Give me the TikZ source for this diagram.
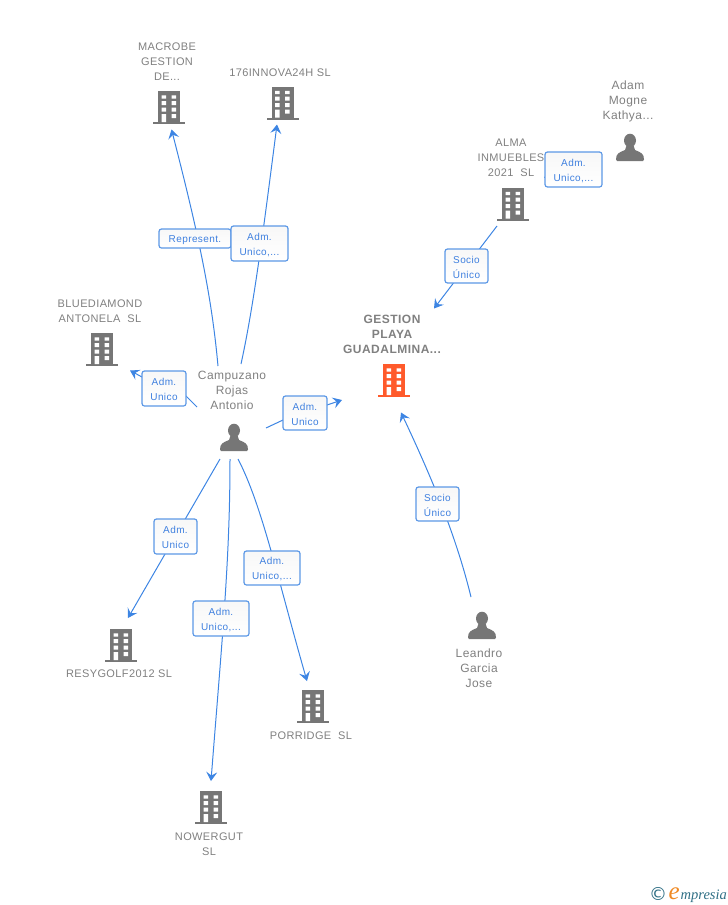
\documentclass[tikz,border=0pt]{standalone}
\usepackage{fontspec}
\setmainfont[LetterSpace=3.5]{Liberation Sans}
\newfontfamily\boldlabel[LetterSpace=4]{Liberation Sans}
\newfontfamily\boxlabel[LetterSpace=4]{Liberation Sans}
\newfontfamily\logofont{Liberation Serif}
\newfontfamily\symfont{DejaVu Sans}
\usetikzlibrary{arrows.meta}
\newcommand{\tagpad}{\rule{0pt}{9.4pt}}
\definecolor{txtgray}{HTML}{808080}
\definecolor{icongray}{HTML}{767676}
\definecolor{iconorange}{HTML}{FF5A2B}
\definecolor{linkblue}{HTML}{3D85E3}
\definecolor{boxblue}{HTML}{5C98E6}
\definecolor{boxtext}{HTML}{3F80DF}
\definecolor{logoteal}{HTML}{2F6F85}
\definecolor{logoorange}{HTML}{F08A24}
\tikzset{
  x=1pt,y=-1pt,
  entity/.style={text=txtgray,align=center,inner sep=0pt,font=\fontsize{11}{15}\selectfont},
  personname/.style={text=txtgray,align=center,inner sep=0pt,font=\fontsize{12}{15}\selectfont},
  mainentity/.style={text=txtgray,align=center,inner sep=0pt,font=\boldlabel\bfseries\fontsize{12}{15}\selectfont},
  iconspot/.style={inner sep=0pt,minimum width=32pt,minimum height=34pt},
  link/.style={draw=linkblue,line width=1pt,-{Stealth[length=9pt,width=11pt,inset=3.5pt]}},
  tag/.style={draw=boxblue,line width=1.2pt,rounded corners=2.5pt,top color=white!97!black,bottom color=white,text=boxtext,align=center,inner sep=0pt,font=\boxlabel\fontsize{10}{15}\selectfont},
  pics/building/.style={code={
    \fill[#1] (-11,-16) rectangle (11,15.5);
    \fill[#1] (-16,15) rectangle (16,17);
    \fill[white] (-7.3,-11.7) rectangle (-3,-8.4) (2.7,-11.7) rectangle (7,-8.4)
                 (-7.3,-6) rectangle (-3,-2) (2.7,-6) rectangle (7,-2)
                 (-7.3,0.7) rectangle (-3,4.7) (2.7,0.7) rectangle (7,4.7)
                 (-7.3,7) rectangle (-3,15) (2.7,7) rectangle (7,11);
  }},
  pics/person/.style={code={
    \fill[icongray] (0,-7) ellipse (6 and 6.8);
    \fill[icongray] (-13,13.5) .. controls (-14,13.5) and (-14,13) .. (-14,12)
      .. controls (-14,6) and (-11,5) .. (-5,2.5)
      -- (-3.5,-2) -- (3.5,-2) -- (5,2.5) .. controls (11,5) and (14,6) .. (14,12)
      .. controls (14,13) and (14,13.5) .. (13,13.5) -- cycle;
  }}
}
\begin{document}
\begin{tikzpicture}
\useasboundingbox (0,0) rectangle (728,905);
% icons
\node[iconspot] (iMacrobe) at (169,107) {};
\node[iconspot] (iInnova) at (282.5,102.5) {};
\node[iconspot] (iAlma) at (513,203.5) {};
\node[iconspot] (iBlue) at (102,349) {};
\node[iconspot] (iGestion) at (394,380) {};
\node[iconspot] (iResy) at (121,645) {};
\node[iconspot] (iPorridge) at (313,706) {};
\node[iconspot] (iNower) at (211,807) {};
\node[iconspot] (iCamp) at (234,437.5) {};
\node[iconspot] (iAdam) at (630,147.5) {};
\node[iconspot] (iLeandro) at (482,625.5) {};
\pic at (iMacrobe.center) {building=icongray};
\pic at (iInnova.center) {building=icongray};
\pic at (iAlma.center) {building=icongray};
\pic at (iBlue.center) {building=icongray};
\pic at (iGestion.center) {building=iconorange};
\pic at (iResy.center) {building=icongray};
\pic at (iPorridge.center) {building=icongray};
\pic at (iNower.center) {building=icongray};
\pic at (iCamp.center) {person};
\pic at (iAdam.center) {person};
\pic at (iLeandro.center) {person};
% names
\node[entity] (nMacrobe) at (167,62) {MACROBE\\GESTION\\DE...};
\node[entity] (nInnova) at (280,72.5) {176INNOVA24H SL};
\node[personname] (nAdam) at (628,101) {Adam\\Mogne\\Kathya...};
\node[entity] (nAlma) at (511,158) {ALMA\\INMUEBLES\\2021~ SL};
\node[entity] (nBlue) at (100,311.5) {BLUEDIAMOND\\ANTONELA~ SL};
\node[mainentity] (nGestion) at (392,334) {GESTION\\PLAYA\\GUADALMINA...};
\node[personname] (nCamp) at (232,390) {Campuzano\\Rojas\\Antonio};
\node[entity] (nResy) at (119,673.5) {RESYGOLF2012 SL};
\node[entity] (nPorridge) at (311,735.5) {PORRIDGE~ SL};
\node[entity] (nNower) at (209,844) {NOWERGUT\\SL};
\node[personname] (nLeandro) at (479,668) {Leandro\\Garcia\\Jose};
% connector ends
\coordinate (sA) at (218,366); \coordinate (tA) at (171.5,129.5);
\coordinate (sB) at (241,364); \coordinate (tB) at (277,124.5);
\coordinate (sC) at (197,407); \coordinate (tC) at (130,370.5);
\coordinate (sD) at (266,428); \coordinate (tD) at (342,400);
\coordinate (sE) at (220,459); \coordinate (tE) at (128,618);
\coordinate (sF) at (230,459); \coordinate (tF) at (211,781);
\coordinate (sG) at (238,459); \coordinate (tG) at (307,681);
\coordinate (sH) at (471,597); \coordinate (tH) at (401,412.5);
\coordinate (sI) at (497,226); \coordinate (tI) at (434,308.5);
\coordinate (sJ) at (552,173); \coordinate (tJ) at (544,178);
% connectors
\draw[link] (sA) .. controls (212,300) and (200,240) .. (tA);
\draw[link] (sB) .. controls (254,305) and (264,225) .. (tB);
\draw[link] (sC) -- (186,396) -- (142,377) -- (tC);
\draw[link] (sD) -- (283,420) -- (327,405) -- (tD);
\draw[link] (sE) -- (tE);
\draw[link] (sF) .. controls (230,560) and (222,640) .. (tF);
\draw[link] (sG) .. controls (262,505) and (278,580) .. (tG);
\draw[link] (sH) .. controls (459,548) and (440,495) .. (tH);
\draw[link] (sI) -- (tI);
\draw[link] (sJ) -- (tJ);
% connector labels
\node[tag,minimum width=72pt,minimum height=19pt] (lA) at (195,238.5) {\tagpad Represent.};
\node[tag,minimum width=57pt,minimum height=35pt] (lB) at (259.5,243.5) {\tagpad Adm.\\Unico,...};
\node[tag,minimum width=44pt,minimum height=35pt] (lC) at (164,388.5) {\tagpad Adm.\\Unico};
\node[tag,minimum width=44pt,minimum height=34pt] (lD) at (305,413) {\tagpad Adm.\\Unico};
\node[tag,minimum width=43pt,minimum height=35pt] (lE) at (175.5,536.5) {\tagpad Adm.\\Unico};
\node[tag,minimum width=56pt,minimum height=35pt] (lF) at (221,618.5) {\tagpad Adm.\\Unico,...};
\node[tag,minimum width=56pt,minimum height=34pt] (lG) at (272,568) {\tagpad Adm.\\Unico,...};
\node[tag,minimum width=43pt,minimum height=34pt] (lH) at (437.5,504) {\tagpad Socio\\Único};
\node[tag,minimum width=43pt,minimum height=34pt] (lI) at (466.5,266) {\tagpad Socio\\Único};
\node[tag,minimum width=57pt,minimum height=35pt] (lJ) at (573.5,169.5) {\tagpad Adm.\\Unico,...};
% logo
\node[inner sep=0pt,text=logoteal,font=\symfont\fontsize{18}{18}\selectfont] (logoC) at (658,894) {©};
\node[inner sep=0pt,anchor=base east,text=logoorange,font=\logofont\itshape\fontsize{25}{25}\selectfont] (logoE) at (680,899) {e};
\node[inner sep=0pt,anchor=base west,text=logoteal,font=\logofont\itshape\fontsize{14.5}{15}\selectfont] (logoT) at (680.5,899) {mpresia};
\end{tikzpicture}
\end{document}
